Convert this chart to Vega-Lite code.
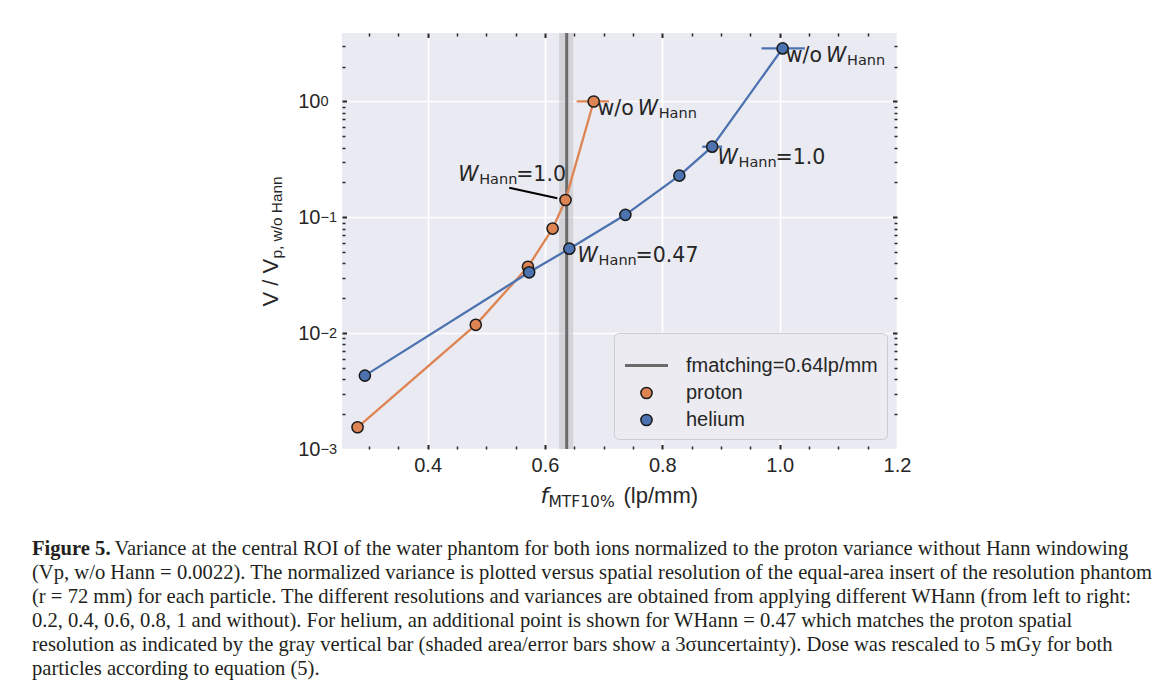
{
  "$schema": "https://vega.github.io/schema/vega-lite/v6.json",
  "width": 555,
  "height": 416,
  "autosize": {"type": "none"},
  "padding": {"left": 342, "top": 33, "right": 273, "bottom": 248},
  "background": "white",
  "datasets": {
    "pts": [
      {"series": "proton", "x": 0.2805, "y": 0.00154},
      {"series": "proton", "x": 0.482, "y": 0.0118},
      {"series": "proton", "x": 0.571, "y": 0.0374},
      {"series": "proton", "x": 0.613, "y": 0.080},
      {"series": "proton", "x": 0.635, "y": 0.141},
      {"series": "proton", "x": 0.683, "y": 1.0},
      {"series": "helium", "x": 0.293, "y": 0.0043},
      {"series": "helium", "x": 0.573, "y": 0.0335},
      {"series": "helium", "x": 0.6415, "y": 0.0536},
      {"series": "helium", "x": 0.737, "y": 0.105},
      {"series": "helium", "x": 0.829, "y": 0.229},
      {"series": "helium", "x": 0.885, "y": 0.407},
      {"series": "helium", "x": 1.005, "y": 2.87}
    ],
    "bars": [
      {"series": "proton", "xlo": 0.654, "xhi": 0.709, "y": 1.0},
      {"series": "helium", "xlo": 0.868, "xhi": 0.902, "y": 0.407},
      {"series": "helium", "xlo": 0.969, "xhi": 1.043, "y": 2.87}
    ],
    "vline": [
      {"series": "fmatching=0.64lp/mm", "x": 0.637, "lo": 0.624, "hi": 0.648}
    ],
    "labels": [
      {"x": 0.758, "y": 0.76, "pre": "w/o", "main": "W", "sub": "Hann", "post": ""},
      {"x": 1.079, "y": 2.17, "pre": "w/o", "main": "W", "sub": "Hann", "post": ""},
      {"x": 0.894, "y": 0.288, "pre": "", "main": "W", "sub": "Hann", "post": "=1.0"},
      {"x": 0.6556, "y": 0.0411, "pre": "", "main": "W", "sub": "Hann", "post": "=0.47"},
      {"x": 0.452, "y": 0.207, "pre": "", "main": "W", "sub": "Hann", "post": "=1.0"}
    ],
    "leader": [
      {"x": 0.539, "y": 0.180, "x2": 0.621, "y2": 0.146}
    ]
  },
  "title": {
    "text": "Figure 5.",
    "subtitle": [
      "\u200b\u00a0\u00a0\u00a0\u00a0\u00a0\u00a0\u00a0\u00a0\u00a0\u00a0\u00a0\u00a0\u00a0\u00a0\u00a0\u00a0Variance at the central ROI of the water phantom for both ions normalized to the proton variance without Hann windowing",
      "(Vp, w/o Hann = 0.0022). The normalized variance is plotted versus spatial resolution of the equal-area insert of the resolution phantom",
      "(r = 72 mm) for each particle. The different resolutions and variances are obtained from applying different WHann (from left to right:",
      "0.2, 0.4, 0.6, 0.8, 1 and without). For helium, an additional point is shown for WHann = 0.47 which matches the proton spatial",
      "resolution as indicated by the gray vertical bar (shaded area/error bars show a 3σuncertainty). Dose was rescaled to 5 mGy for both",
      "particles according to equation (5)."
    ],
    "orient": "bottom",
    "anchor": "start",
    "frame": "group",
    "dx": -310,
    "offset": 29,
    "font": "Liberation Serif",
    "fontSize": 20.6,
    "fontWeight": "bold",
    "color": "#231f20",
    "subtitleFont": "Liberation Serif",
    "subtitleFontSize": 20.6,
    "subtitleColor": "#231f20",
    "subtitleLineHeight": 24,
    "subtitlePadding": -20.6
  },
  "config": {
    "view": {"stroke": null, "fill": "#EAEAF2"},
    "legend": {
      "orient": "bottom-right",
      "offset": 10,
      "padding": 9,
      "fillColor": "#EBEBF1",
      "strokeColor": "#CBCBD0",
      "cornerRadius": 5,
      "labelFont": "Liberation Sans",
      "labelFontSize": 20,
      "labelColor": "#262626",
      "labelOffset": 16,
      "labelLimit": 400,
      "rowPadding": 7,
      "symbolOpacity": 1
    }
  },
  "resolve": {"axis": {"x": "independent", "y": "independent"}},
  "layer": [
    {
      "data": {"name": "vline"},
      "mark": {"type": "rect", "color": "#b0b0b0", "opacity": 0.4},
      "encoding": {
        "x": {"field": "lo", "type": "quantitative", "scale": {"domain": [0.254, 1.2], "nice": false, "zero": false},
          "axis": {"orient": "bottom", "values": [0.4, 0.6, 0.8, 1.0, 1.2], "format": ".1f", "labelFont": "Liberation Sans", "labelFontSize": 20, "labelColor": "#262626", "labelPadding": 6, "labelFlush": false, "labelOverlap": false, "labelBound": false, "ticks": false, "domain": false, "grid": true, "gridColor": "#ffffff", "gridWidth": 1.6, "gridOpacity": 1, "title": null}},
        "x2": {"field": "hi"}
      }
    },
    {
      "data": {"name": "vline"},
      "mark": {"type": "rule"},
      "encoding": {
        "x": {"field": "x", "type": "quantitative", "scale": {"domain": [0.254, 1.2], "nice": false, "zero": false},
          "axis": {"orient": "bottom", "values": [0.3, 0.35, 0.45, 0.5, 0.55, 0.65, 0.7, 0.75, 0.85, 0.9, 0.95, 1.05, 1.1, 1.15], "labels": false, "domain": false, "grid": false, "title": null, "ticks": true, "tickSize": -3, "tickWidth": 1.5, "tickColor": "#262626"}},
        "stroke": {"field": "series", "type": "nominal", "scale": {"domain": ["fmatching=0.64lp/mm", "proton", "helium"], "range": ["#6b6b6b", "#1a1a1a", "#1a1a1a"]}, "legend": {"title": null}},
        "strokeWidth": {"field": "series", "type": "nominal", "scale": {"type": "ordinal", "domain": ["fmatching=0.64lp/mm", "proton", "helium"], "range": [3, 1.5, 1.5]}, "legend": {"title": null}}
      }
    },
    {
      "data": {"name": "pts"},
      "transform": [{"filter": "datum.series === 'proton'"}],
      "mark": {"type": "line", "color": "#DD8452", "strokeWidth": 2.3},
      "encoding": {
        "x": {"field": "x", "type": "quantitative", "scale": {"domain": [0.254, 1.2], "nice": false, "zero": false},
          "axis": {"orient": "top", "values": [0.4, 0.6, 0.8, 1.0], "labels": false, "domain": false, "grid": false, "title": null, "ticks": true, "tickSize": -4.5, "tickWidth": 2, "tickColor": "#262626"}},
        "y": {"field": "y", "type": "quantitative", "scale": {"type": "log", "domain": [0.001, 3.9], "nice": false},
          "axis": {"orient": "left", "values": [0.001, 0.01, 0.1, 1], "labelExpr": "'10'", "labelFont": "Liberation Sans", "labelFontSize": 20, "labelColor": "#262626", "labelAlign": "right", "labelBaseline": "middle", "labelDy": 4, "labelPadding": 22, "labelOverlap": false, "labelBound": false, "labelFlush": false, "ticks": false, "domain": false, "grid": true, "gridColor": "#ffffff", "gridWidth": 1.6, "gridOpacity": 1, "title": null}}
      }
    },
    {
      "data": {"name": "pts"},
      "transform": [{"filter": "datum.series === 'helium'"}],
      "mark": {"type": "line", "color": "#4C72B0", "strokeWidth": 2.3},
      "encoding": {
        "x": {"field": "x", "type": "quantitative", "scale": {"domain": [0.254, 1.2], "nice": false, "zero": false},
          "axis": {"orient": "top", "values": [0.3, 0.35, 0.45, 0.5, 0.55, 0.65, 0.7, 0.75, 0.85, 0.9, 0.95, 1.05, 1.1, 1.15], "labels": false, "domain": false, "grid": false, "title": null, "ticks": true, "tickSize": -3, "tickWidth": 1.5, "tickColor": "#262626"}},
        "y": {"field": "y", "type": "quantitative", "scale": {"type": "log", "domain": [0.001, 3.9], "nice": false},
          "axis": {"orient": "left", "values": [0.002, 0.003, 0.004, 0.005, 0.006, 0.007, 0.008, 0.009, 0.02, 0.03, 0.04, 0.05, 0.06, 0.07, 0.08, 0.09, 0.2, 0.3, 0.4, 0.5, 0.6, 0.7, 0.8, 0.9, 2, 3], "labels": false, "domain": false, "grid": false, "title": null, "ticks": true, "tickSize": -3, "tickWidth": 1.5, "tickColor": "#262626"}}
      }
    },
    {
      "data": {"name": "bars"},
      "transform": [{"filter": "datum.series === 'proton'"}],
      "mark": {"type": "rule", "color": "#DD8452", "strokeWidth": 2.3},
      "encoding": {
        "x": {"field": "xlo", "type": "quantitative", "scale": {"domain": [0.254, 1.2], "nice": false, "zero": false},
          "axis": {"orient": "bottom", "values": [0.4, 0.6, 0.8, 1.0], "labels": false, "domain": false, "grid": false, "title": null, "ticks": true, "tickSize": -4.5, "tickWidth": 2, "tickColor": "#262626"}},
        "x2": {"field": "xhi"},
        "y": {"field": "y", "type": "quantitative", "scale": {"type": "log", "domain": [0.001, 3.9], "nice": false},
          "axis": {"orient": "right", "values": [0.01, 0.1, 1], "labels": false, "domain": false, "grid": false, "title": null, "ticks": true, "tickSize": -4.5, "tickWidth": 2, "tickColor": "#262626"}}
      }
    },
    {
      "data": {"name": "bars"},
      "transform": [{"filter": "datum.series === 'helium'"}],
      "mark": {"type": "rule", "color": "#4C72B0", "strokeWidth": 2.3},
      "encoding": {
        "x": {"field": "xlo", "type": "quantitative", "scale": {"domain": [0.254, 1.2], "nice": false, "zero": false}, "axis": null},
        "x2": {"field": "xhi"},
        "y": {"field": "y", "type": "quantitative", "scale": {"type": "log", "domain": [0.001, 3.9], "nice": false},
          "axis": {"orient": "right", "values": [0.002, 0.003, 0.004, 0.005, 0.006, 0.007, 0.008, 0.009, 0.02, 0.03, 0.04, 0.05, 0.06, 0.07, 0.08, 0.09, 0.2, 0.3, 0.4, 0.5, 0.6, 0.7, 0.8, 0.9, 2, 3], "labels": false, "domain": false, "grid": false, "title": null, "ticks": true, "tickSize": -3, "tickWidth": 1.5, "tickColor": "#262626"}}
      }
    },
    {
      "data": {"name": "pts"},
      "mark": {"type": "point", "filled": true, "opacity": 1},
      "encoding": {
        "x": {"field": "x", "type": "quantitative", "scale": {"domain": [0.254, 1.2], "nice": false, "zero": false},
          "axis": {"orient": "bottom", "labels": false, "ticks": false, "domain": false, "grid": false, "title": "f", "titleFont": "DejaVu Sans", "titleFontStyle": "italic", "titleFontWeight": "normal", "titleFontSize": 22, "titleColor": "#262626", "titleAlign": "left", "titleBaseline": "alphabetic", "titleX": 198, "titleY": 53}},
        "y": {"field": "y", "type": "quantitative", "scale": {"type": "log", "domain": [0.001, 3.9], "nice": false},
          "axis": {"orient": "left", "values": [0.001, 0.01, 0.1, 1], "labelExpr": "datum.value > 0.5 ? '0' : datum.value > 0.05 ? '−1' : datum.value > 0.005 ? '−2' : '−3'", "labelFont": "Liberation Sans", "labelFontSize": 14.5, "labelColor": "#262626", "labelAlign": "left", "labelBaseline": "middle", "labelDy": -9, "labelPadding": 22, "labelOverlap": false, "labelBound": false, "labelFlush": false, "ticks": false, "domain": false, "grid": false, "title": null}},
        "fill": {"field": "series", "type": "nominal", "scale": {"domain": ["fmatching=0.64lp/mm", "proton", "helium"], "range": ["#6b6b6b", "#DD8452", "#4C72B0"]}, "legend": {"title": null}},
        "stroke": {"field": "series", "type": "nominal", "scale": {"domain": ["fmatching=0.64lp/mm", "proton", "helium"], "range": ["#6b6b6b", "#1a1a1a", "#1a1a1a"]}, "legend": {"title": null}},
        "shape": {"field": "series", "type": "nominal", "scale": {"domain": ["fmatching=0.64lp/mm", "proton", "helium"], "range": ["stroke", "circle", "circle"]}, "legend": {"title": null}},
        "size": {"field": "series", "type": "nominal", "scale": {"type": "ordinal", "domain": ["fmatching=0.64lp/mm", "proton", "helium"], "range": [1850, 125, 125]}, "legend": {"title": null}},
        "strokeWidth": {"field": "series", "type": "nominal", "scale": {"type": "ordinal", "domain": ["fmatching=0.64lp/mm", "proton", "helium"], "range": [3, 1.5, 1.5]}, "legend": {"title": null}}
      }
    },
    {
      "data": {"name": "labels"},
      "mark": {"type": "text", "align": "right", "baseline": "alphabetic", "dx": -4, "font": "DejaVu Sans", "fontSize": 20.5, "color": "#262626"},
      "encoding": {
        "x": {"field": "x", "type": "quantitative", "scale": {"domain": [0.254, 1.2], "nice": false, "zero": false},
          "axis": {"orient": "bottom", "labels": false, "ticks": false, "domain": false, "grid": false, "title": "MTF10%", "titleFont": "DejaVu Sans", "titleFontWeight": "normal", "titleFontSize": 15.5, "titleColor": "#262626", "titleAlign": "left", "titleBaseline": "alphabetic", "titleX": 206, "titleY": 57}},
        "y": {"field": "y", "type": "quantitative", "scale": {"type": "log", "domain": [0.001, 3.9], "nice": false},
          "axis": {"orient": "left", "labels": false, "ticks": false, "domain": false, "grid": false, "title": "V / V", "titleFont": "Liberation Sans", "titleFontWeight": "normal", "titleFontSize": 22, "titleColor": "#262626", "titleAngle": 270, "titleAlign": "left", "titleBaseline": "alphabetic", "titleX": -65, "titleY": 273}},
        "text": {"field": "pre"}
      }
    },
    {
      "data": {"name": "labels"},
      "mark": {"type": "text", "align": "left", "baseline": "alphabetic", "font": "DejaVu Sans", "fontStyle": "oblique", "fontSize": 20.5, "color": "#262626"},
      "encoding": {
        "x": {"field": "x", "type": "quantitative", "scale": {"domain": [0.254, 1.2], "nice": false, "zero": false},
          "axis": {"orient": "bottom", "labels": false, "ticks": false, "domain": false, "grid": false, "title": "(lp/mm)", "titleFont": "Liberation Sans", "titleFontWeight": "normal", "titleFontSize": 22, "titleColor": "#262626", "titleAlign": "left", "titleBaseline": "alphabetic", "titleX": 281, "titleY": 53}},
        "y": {"field": "y", "type": "quantitative", "scale": {"type": "log", "domain": [0.001, 3.9], "nice": false},
          "axis": {"orient": "left", "labels": false, "ticks": false, "domain": false, "grid": false, "title": "p, w/o Hann", "titleFont": "Liberation Sans", "titleFontWeight": "normal", "titleFontSize": 15.4, "titleColor": "#262626", "titleAngle": 270, "titleAlign": "left", "titleBaseline": "alphabetic", "titleX": -61, "titleY": 225}},
        "text": {"field": "main"}
      }
    },
    {
      "data": {"name": "labels"},
      "mark": {"type": "text", "align": "left", "baseline": "alphabetic", "dx": 21, "dy": 3, "font": "DejaVu Sans", "fontSize": 14.5, "color": "#262626"},
      "encoding": {
        "x": {"field": "x", "type": "quantitative", "scale": {"domain": [0.254, 1.2], "nice": false, "zero": false}, "axis": null},
        "y": {"field": "y", "type": "quantitative", "scale": {"type": "log", "domain": [0.001, 3.9], "nice": false}, "axis": null},
        "text": {"field": "sub"}
      }
    },
    {
      "data": {"name": "labels"},
      "mark": {"type": "text", "align": "left", "baseline": "alphabetic", "dx": 58, "font": "DejaVu Sans", "fontSize": 20.5, "color": "#262626"},
      "encoding": {
        "x": {"field": "x", "type": "quantitative", "scale": {"domain": [0.254, 1.2], "nice": false, "zero": false}, "axis": null},
        "y": {"field": "y", "type": "quantitative", "scale": {"type": "log", "domain": [0.001, 3.9], "nice": false}, "axis": null},
        "text": {"field": "post"}
      }
    },
    {
      "data": {"name": "leader"},
      "mark": {"type": "rule", "color": "#000000", "strokeWidth": 2.2},
      "encoding": {
        "x": {"field": "x", "type": "quantitative", "scale": {"domain": [0.254, 1.2], "nice": false, "zero": false}, "axis": null},
        "x2": {"field": "x2"},
        "y": {"field": "y", "type": "quantitative", "scale": {"type": "log", "domain": [0.001, 3.9], "nice": false},
          "axis": {"orient": "left", "values": [0.01, 0.1, 1], "labels": false, "domain": false, "grid": false, "title": null, "ticks": true, "tickSize": -4.5, "tickWidth": 2, "tickColor": "#262626"}},
        "y2": {"field": "y2"}
      }
    }
  ]
}
